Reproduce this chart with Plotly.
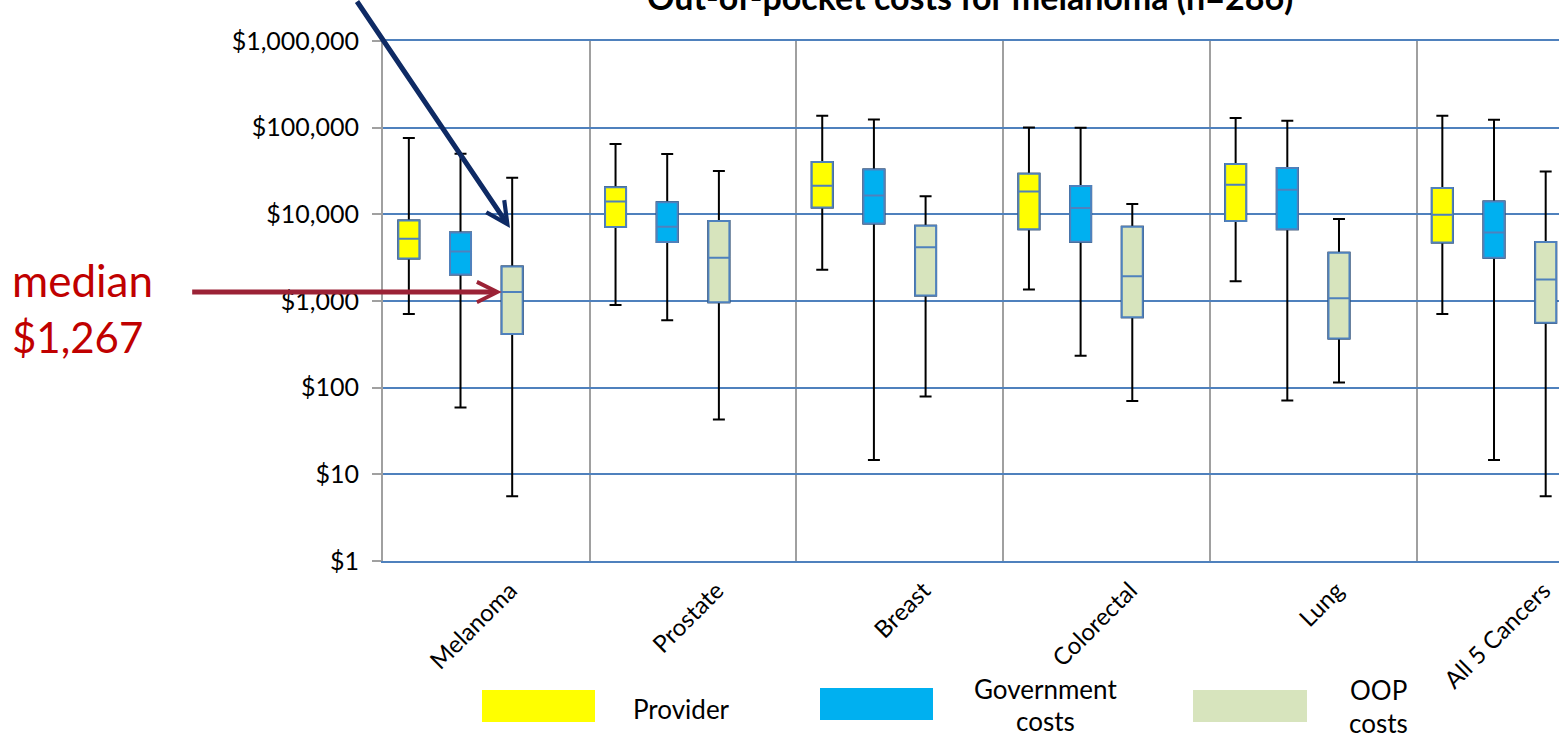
import numpy as np
import plotly.graph_objects as go

# ---- data -------------------------------------------------------------
categories = ["Melanoma", "Prostate", "Breast", "Colorectal", "Lung", "All 5 Cancers"]
series_names = ["Provider", "Government costs", "OOP costs"]

provider_low = [710, 900, 2290, 1360, 1690, 710]
provider_q1 = [3090, 7120, 12000, 6750, 8350, 4730]
provider_med = [5220, 14080, 21340, 18370, 21940, 9880]
provider_q3 = [8490, 20600, 40070, 29380, 38000, 20080]
provider_high = [75900, 64700, 137300, 100700, 129100, 137300]

gov_low = [59, 600, 14.6, 234, 71, 14.6]
gov_q1 = [2020, 4780, 7850, 4820, 6750, 3150]
gov_med = [3730, 7180, 16520, 11800, 19200, 6180]
gov_q3 = [6180, 13830, 32970, 21170, 34150, 14080]
gov_high = [50000, 49600, 124500, 99800, 120300, 123500]

oop_low = [5.6, 43, 79, 70, 115, 5.6]
oop_q1 = [417, 968, 1157, 650, 369, 560]
oop_med = [1267, 3150, 4180, 1933, 1077, 1770]
oop_q3 = [2500, 8350, 7380, 7180, 3600, 4780]
oop_high = [26400, 31550, 16220, 13120, 8810, 31260]

ytick_values = [1, 10, 100, 1000, 10000, 100000, 1000000]
ytick_labels = ["$1", "$10", "$100", "$1,000", "$10,000", "$100,000", "$1,000,000"]

melanoma_oop_median = oop_med[0]

# ---- styling ------------------------------------------------------------
FONT = "Lato"
W, H = 1559, 740
PLOT_L, PLOT_R, PLOT_T, PLOT_B = 383, 1559, 41, 561
CAT_PX = 206.7
BOX_W = 21 / CAT_PX
fills = ["#FFFF00", "#00B0F0", "#D7E4BD"]
offsets = [-0.375, -0.125, 0.125]
BOX_LINE = "#4F81BD"
GRID_BLUE = "#4F81BD"
GRID_GRAY = "#A0A0A0"


def px_x(px):
    return (px - PLOT_L) / (PLOT_R - PLOT_L)


def px_y(py):
    return (PLOT_B - py) / (PLOT_B - PLOT_T)


series = [
    (provider_low, provider_q1, provider_med, provider_q3, provider_high),
    (gov_low, gov_q1, gov_med, gov_q3, gov_high),
    (oop_low, oop_q1, oop_med, oop_q3, oop_high),
]

fig = go.Figure()
n = len(categories)
for (low, q1, med, q3, high), off, fill, name in zip(series, offsets, fills, series_names):
    xs = [i + off for i in range(n)]
    # black whiskers with caps
    fig.add_trace(go.Box(
        x=xs, q1=q1, median=med, q3=q3, lowerfence=low, upperfence=high,
        width=BOX_W, whiskerwidth=0.57, boxpoints=False,
        line=dict(color="black", width=2), fillcolor="rgba(0,0,0,0)",
        showlegend=False, hoverinfo="skip", name=name,
    ))
    # coloured interquartile box with median line
    fig.add_trace(go.Box(
        x=xs, q1=q1, median=med, q3=q3, lowerfence=q1, upperfence=q3,
        width=BOX_W, whiskerwidth=0, boxpoints=False,
        line=dict(color=BOX_LINE, width=2), fillcolor=fill,
        showlegend=False, name=name,
    ))

x_max = -0.5 + (PLOT_R - PLOT_L) / CAT_PX

fig.update_layout(
    width=W, height=H, autosize=False,
    margin=dict(l=PLOT_L, r=W - PLOT_R, t=PLOT_T, b=H - PLOT_B, pad=0),
    paper_bgcolor="white", plot_bgcolor="white",
    boxmode="overlay", showlegend=False,
    font=dict(family=FONT, color="black"),
    xaxis=dict(
        range=[-0.5, x_max], zeroline=False, showgrid=False,
        tickmode="array", tickvals=[i + 0.115 for i in range(n)], ticktext=categories,
        tickangle=-45, ticks="", tickfont=dict(family=FONT, size=24, color="black"),
        ticklabelstandoff=4, ticklabeloverflow="allow",
        showline=True, linecolor=GRID_BLUE, linewidth=2, mirror=True,
        minor=dict(tickmode="array", tickvals=[i + 0.5 for i in range(n - 1)],
                   showgrid=True, gridcolor=GRID_GRAY, gridwidth=2, ticks=""),
    ),
    yaxis=dict(
        type="log", range=[0, 6], tickmode="array",
        tickvals=ytick_values, ticktext=ytick_labels,
        showgrid=True, gridcolor=GRID_BLUE, gridwidth=2,
        ticks="outside", ticklen=9, tickwidth=2, tickcolor=GRID_GRAY,
        showline=True, linecolor=GRID_GRAY, linewidth=2,
        tickfont=dict(family=FONT, size=25, color="black"),
        ticklabelstandoff=8, zeroline=False,
    ),
)

annotations = []
# title, partly above the page edge
annotations.append(dict(
    text="<b>Out-of-pocket costs for melanoma (n=286)</b>",
    x=px_x(970), y=px_y(-4), xref="paper", yref="paper",
    xanchor="center", yanchor="middle", showarrow=False,
    font=dict(family=FONT, size=34, color="black"),
))
# navy pointer arrow toward the OOP whisker
annotations.append(dict(
    text="", x=px_x(510), y=px_y(228), xref="paper", yref="paper",
    ax=-154, ay=-248, showarrow=True, arrowhead=5, arrowsize=0.85,
    arrowwidth=5, arrowcolor="#0E2A64", standoff=0,
))
# red arrow to the melanoma OOP median
annotations.append(dict(
    text="", x=offsets[2] - BOX_W / 2, y=np.log10(melanoma_oop_median),
    xref="x", yref="y", ax=-311, ay=0, showarrow=True, arrowhead=5,
    arrowsize=0.8, arrowwidth=5, arrowcolor="#9B2236", standoff=0,
))
annotations.append(dict(
    text="median", x=px_x(10), y=px_y(280), xref="paper", yref="paper",
    xanchor="left", yanchor="middle", showarrow=False,
    font=dict(family=FONT, size=44, color="#C00000"),
))
annotations.append(dict(
    text=f"${melanoma_oop_median:,}", x=px_x(10), y=px_y(337), xref="paper", yref="paper",
    xanchor="left", yanchor="middle", showarrow=False,
    font=dict(family=FONT, size=42, color="#C00000"),
))

# legend swatches and labels
legend_boxes = [(482, 595, 690, 722), (820, 933, 688, 720), (1193, 1307, 690, 722)]
shapes = []
for (x0, x1, y0, y1), fill in zip(legend_boxes, fills):
    shapes.append(dict(
        type="rect", xref="paper", yref="paper",
        x0=px_x(x0), x1=px_x(x1), y0=px_y(y1), y1=px_y(y0),
        fillcolor=fill, line=dict(width=0), layer="above",
    ))
legend_text = [
    ("Provider", 681, 709),
    ("Government", 1045, 689),
    ("costs", 1045, 721),
    ("OOP", 1378, 690),
    ("costs", 1378, 723),
]
for txt, cx, cy in legend_text:
    annotations.append(dict(
        text=txt, x=px_x(cx), y=px_y(cy), xref="paper", yref="paper",
        xanchor="center", yanchor="middle", showarrow=False,
        font=dict(family=FONT, size=26, color="black"),
    ))

fig.update_layout(annotations=annotations, shapes=shapes)

fig.write_html("out.html", config={"displayModeBar": False})
